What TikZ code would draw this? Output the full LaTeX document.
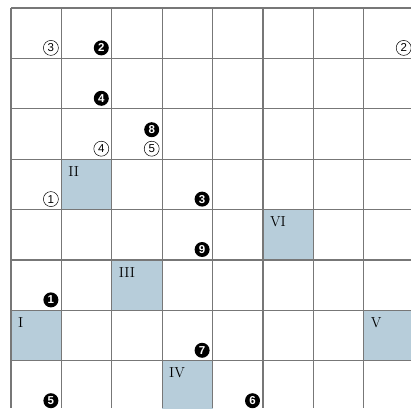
\documentclass[tikz,border=0pt]{standalone}
\usepackage{fontspec}
\newfontfamily\digitfont{Liberation Sans}
\definecolor{cellblue}{HTML}{B7CDDA}
\definecolor{gridgray}{HTML}{777777}
\begin{document}
\begin{tikzpicture}[x=1pt,y=-1pt,
  gridline/.style={gridgray,line width=1.2pt},
  shade/.style={fill=cellblue},
  wnum/.style={circle,draw=black,line width=0.5pt,fill=white,inner sep=0pt,minimum size=15pt,font=\digitfont\fontsize{11.5}{11.5}\selectfont},
  bnum/.style={circle,fill=black,text=white,inner sep=0pt,minimum size=15pt,font=\digitfont\bfseries\fontsize{11.5}{11.5}\selectfont},
  roman/.style={anchor=north west,inner sep=0pt,font=\fontsize{14.5}{14.5}\selectfont}]
\useasboundingbox (0,0) rectangle (411,408);
\clip (0,0) rectangle (411,408);
% shaded cells
\foreach \c/\r/\lab/\nm in {0/6/I/cI,1/3/II/cII,2/5/III/cIII,3/7/IV/cIV,7/6/V/cV,5/4/VI/cVI}{
  \fill[shade] ({11+50.4*\c},{8+50.4*\r}) rectangle ++(50.4,50.4);
  \node[roman] (\nm) at ({11+50.4*\c+6.8},{8+50.4*\r+7}) {\lab};
}
% grid
\foreach \i in {0,...,7}{
  \draw[gridline] ({11+50.4*\i},8) -- ({11+50.4*\i},408);
  \draw[gridline] (11,{8+50.4*\i}) -- (411,{8+50.4*\i});
}
% circled numbers
\foreach \c/\r/\t/\nm in {0/0/3/w3,7/0/2/w2,1/2/4/w4,2/2/5/w5,0/3/1/w1}{
  \node[wnum] (\nm) at ({11+50.4*(\c+1)-10.5},{8+50.4*(\r+1)-10.5}) {\t};
}
\foreach \c/\r/\t/\nm in {1/0/2/b2,1/1/4/b4,0/5/1/b1,3/3/3/b3,3/4/9/b9,3/6/7/b7,0/7/5/b5,4/7/6/b6}{
  \node[bnum] (\nm) at ({11+50.4*(\c+1)-10.5},{8+50.4*(\r+1)-10.5}) {\t};
}
\node[bnum] (b8) at ({11+50.4*3-10.5},{8+50.4*3-29.5}) {8};
\end{tikzpicture}
\end{document}
